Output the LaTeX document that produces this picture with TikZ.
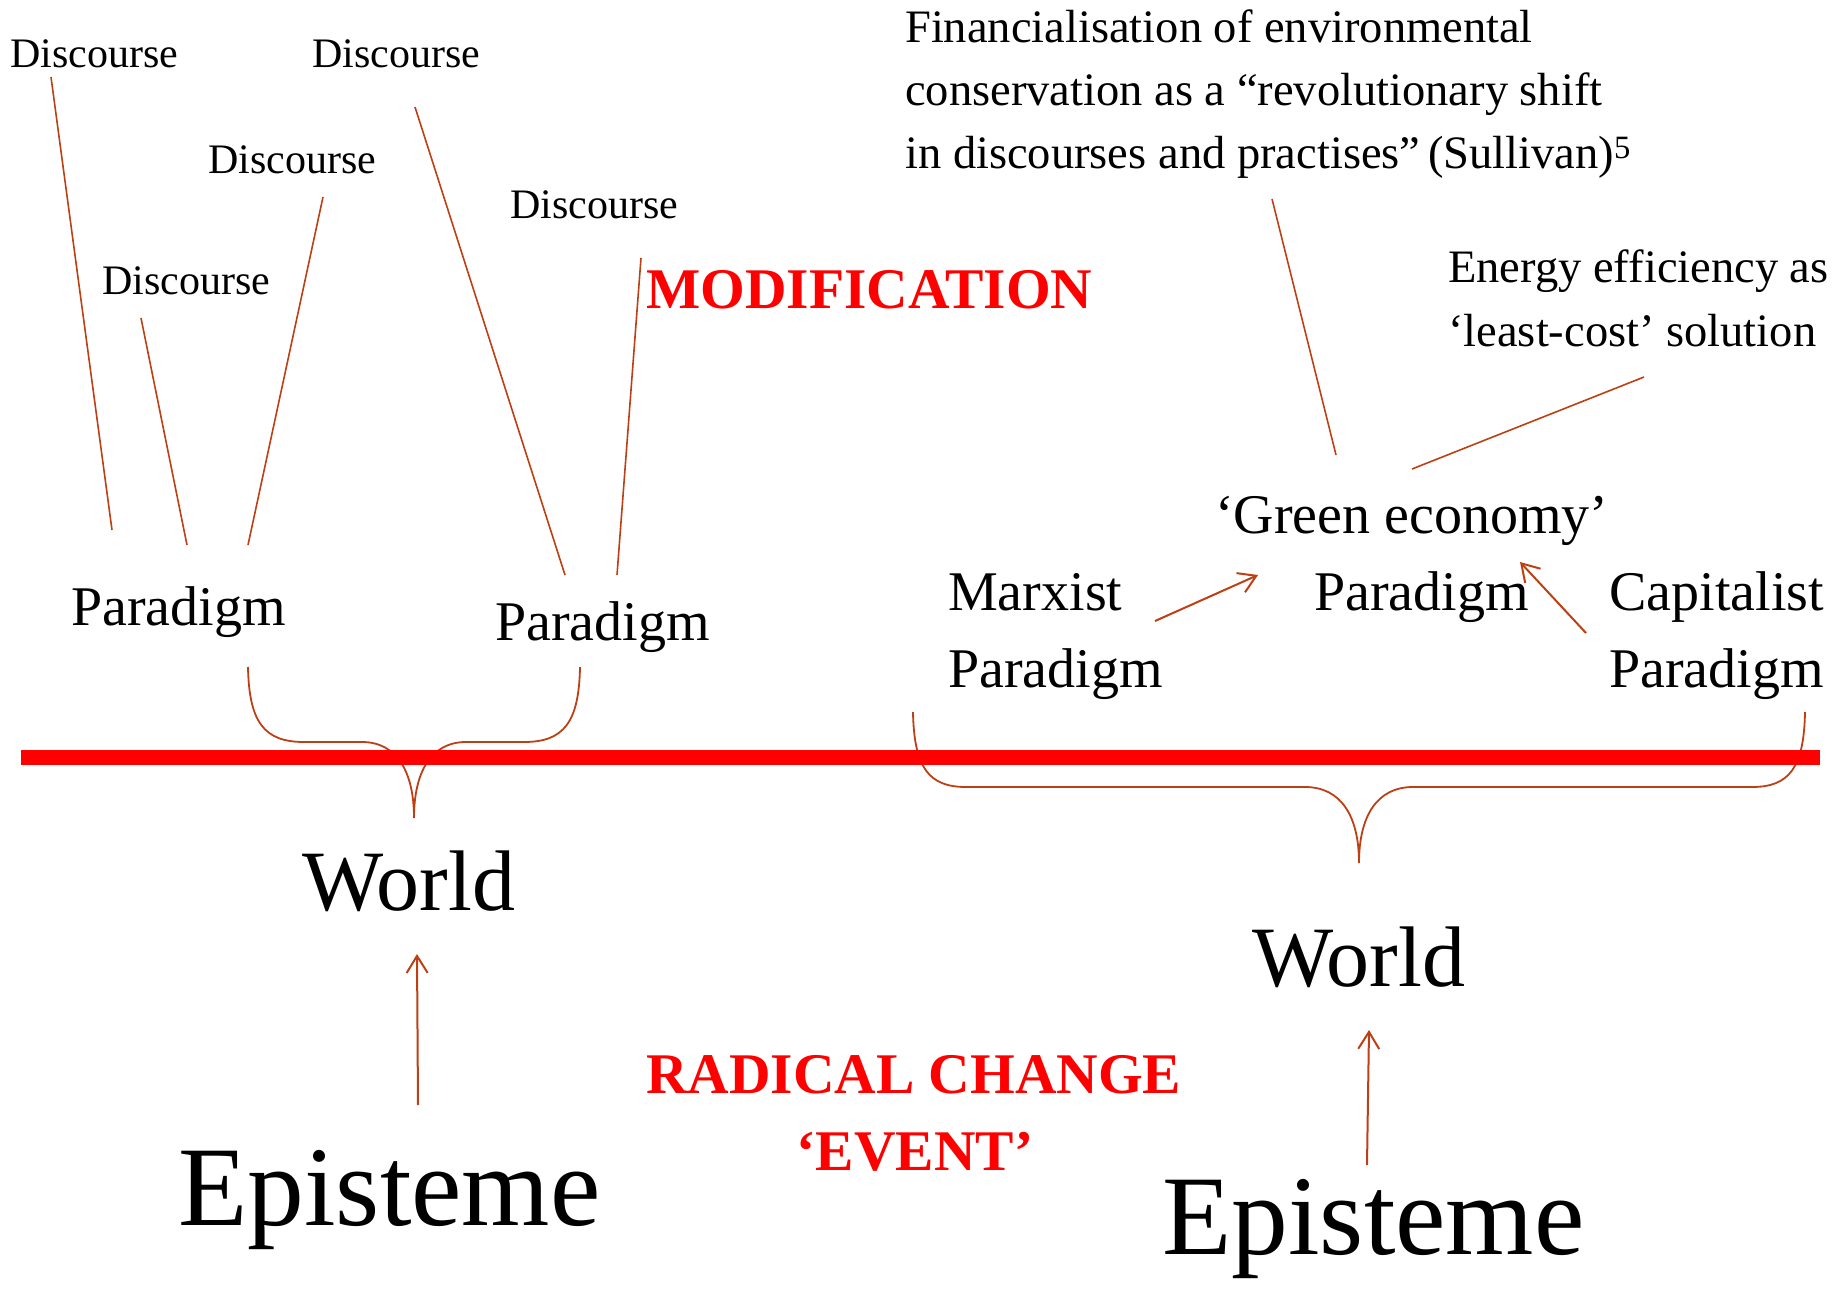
\documentclass[tikz,border=0pt]{standalone}
\usepackage{fontspec}
\setmainfont{Liberation Serif}
\usetikzlibrary{arrows.meta}
\definecolor{rust}{RGB}{188,64,20}
\definecolor{alarm}{RGB}{255,0,0}

\begin{document}
\begin{tikzpicture}[
	x=1pt,
	y=-1pt,
	lbl/.style={anchor=base west, inner sep=0pt},
	disc/.style={lbl, font=\fontsize{42}{48}\selectfont},
	para/.style={lbl, font=\fontsize{56}{64}\selectfont},
	note/.style={lbl, font=\fontsize{46.5}{54}\selectfont},
	world/.style={lbl, font=\fontsize{86}{96}\selectfont},
	epis/.style={lbl, font=\fontsize{113.5}{128}\selectfont},
	shout/.style={lbl, text=alarm, font=\fontsize{57.5}{66}\selectfont\bfseries},
	link/.style={rust, line width=1.6pt},
	push/.style={rust, line width=2pt, -{Straight Barb[length=17pt, width=21pt]}},
	brace/.style={rust, line width=1.8pt},
	cut/.style={alarm, line width=15pt}
	]
	\useasboundingbox (0,0) rectangle (1845,1291);

	\node[disc] (dA) at (10,67) {Discourse};
	\node[disc] (dB) at (312,67) {Discourse};
	\node[disc] (dC) at (208,173) {Discourse};
	\node[disc] (dD) at (102,294) {Discourse};
	\node[disc] (dE) at (510,218) {Discourse};
	\node[shout] (mod) at (646,308) {MODIFICATION};

	\node[para] (pL) at (71,625) {Paradigm};
	\node[para] (pR) at (495,640) {Paradigm};

	\draw[link] ([shift={(41,10)}]dA.base west) -- ([shift={(41,-95)}]pL.base west);
	\draw[link] ([shift={(39,24)}]dD.base west) -- ([shift={(116,-80)}]pL.base west);
	\draw[link] ([shift={(115,24)}]dC.base west) -- ([shift={(177,-80)}]pL.base west);
	\draw[link] ([shift={(103,40)}]dB.base west) -- ([shift={(70,-65)}]pR.base west);
	\draw[link] ([shift={(131,40)}]dE.base west) -- ([shift={(122,-65)}]pR.base west);

	\node[note] (fin1) at (905,42) {Financialisation of environmental};
	\node[note] (fin2) at (905,105) {conservation as a “revolutionary shift};
	\node[note] (fin3) at (905,168) {in discourses and practises”\,(Sullivan)\textsuperscript{5}};
	\node[note] (en1) at (1448,282) {Energy efficiency as};
	\node[note] (en2) at (1448,346) {‘least-cost’ solution};

	\node[para] (ge) at (1215,533) {‘Green economy’};
	\node[para] (pC) at (1314,610) {Paradigm};
	\node[para] (mx) at (948,610) {Marxist};
	\node[para] (mxp) at (948,687) {Paradigm};
	\node[para] (cp) at (1609,610) {Capitalist};
	\node[para] (cpp) at (1609,687) {Paradigm};

	\draw[link] ([shift={(367,31)}]fin3.base west) -- ([shift={(121,-78)}]ge.base west);
	\draw[link] ([shift={(196,31)}]en2.base west) -- ([shift={(197,-64)}]ge.base west);
	\draw[push] ([shift={(207,11)}]mx.base west) -- ([shift={(43,42)}]ge.base west);
	\draw[push] ([shift={(-23,23)}]cp.base west) -- ([shift={(305,29)}]ge.base west);

	\draw[brace] (248,667) .. controls (249,722) and (264,742) .. (304,742) -- (362,742)
		.. controls (397,742) and (414,772) .. (414,818)
		.. controls (414,772) and (431,742) .. (466,742) -- (524,742)
		.. controls (564,742) and (579,722) .. (580,667);
	\draw[brace] (913,712) .. controls (914,768) and (929,787) .. (966,787) -- (1305,787)
		.. controls (1341,787) and (1359,816) .. (1359,863)
		.. controls (1359,816) and (1377,787) .. (1413,787) -- (1752,787)
		.. controls (1789,787) and (1804,768) .. (1805,712);
	\draw[cut] (21,757) -- (1820,757);

	\node[world] (wL) at (302,910) {World};
	\node[world] (wR) at (1252,986) {World};
	\node[epis] (epL) at (178,1225) {Episteme};
	\node[epis] (epR) at (1162,1254) {Episteme};
	\node[shout] (rc) at (646,1093) {RADICAL CHANGE};
	\node[shout, anchor=base] (ev) at (915,1170) {‘EVENT’};

	\draw[push] ([shift={(240,-120)}]epL.base west) -- ([shift={(115,44)}]wL.base west);
	\draw[push] ([shift={(205,-89)}]epR.base west) -- ([shift={(117,44)}]wR.base west);
\end{tikzpicture}
\end{document}
